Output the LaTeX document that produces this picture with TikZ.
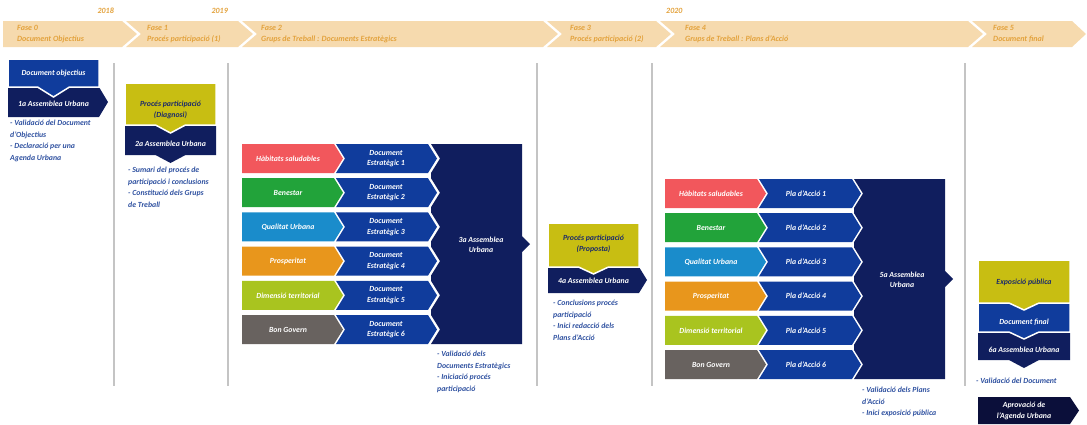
\documentclass[tikz,border=0pt]{standalone}
\usepackage{fontspec}
\setmainfont{Carlito}
\definecolor{bandfill}{HTML}{F6DAAE}
\definecolor{bandtext}{HTML}{E3A23C}
\definecolor{cBlue}{HTML}{103C9C}
\definecolor{cNavy}{HTML}{101E5E}
\definecolor{cDark}{HTML}{0B0F3A}
\definecolor{cYellow}{HTML}{C8BE12}
\definecolor{ynavy}{HTML}{1B2A6B}
\definecolor{cRed}{HTML}{F2575C}
\definecolor{cGreen}{HTML}{22A33A}
\definecolor{cTeal}{HTML}{1A8CCB}
\definecolor{cOrange}{HTML}{E8961C}
\definecolor{cLime}{HTML}{A9C41F}
\definecolor{cGray}{HTML}{68625F}
\definecolor{listblue}{HTML}{2F51A0}
\definecolor{sepgray}{HTML}{C4C4C4}
\newcommand{\HChev}[7]{%
  \fill[#7] (#1,#2) -- (#3,#2) -- ({#3+#6},{(#2+#4)/2}) -- (#3,#4) -- (#1,#4) -- ({#1+#5},{(#2+#4)/2}) -- cycle;}
\newcommand{\VChev}[7]{%
  \filldraw[#7] (#1,#2) -- (#3,#2) -- (#3,#4) -- ({(#1+#3)/2+#5},#4) -- ({(#1+#3)/2},{#4+#6}) -- ({(#1+#3)/2-#5},#4) -- (#1,#4) -- cycle;}
\begin{document}
\begin{tikzpicture}[x=1pt,y=-1pt,
  bandtxt/.style={text=bandtext, font=\bfseries\itshape\fontsize{8}{11.5}\selectfont, align=left, anchor=west, inner sep=0},
  yeartxt/.style={text=bandtext, font=\bfseries\itshape\fontsize{8}{9}\selectfont, inner sep=0},
  boxtxt/.style={text=white, font=\bfseries\itshape\fontsize{7.8}{10.5}\selectfont, align=center, inner sep=0},
  ytxt/.style={boxtxt, text=ynavy},
  listtxt/.style={text=listblue, font=\bfseries\itshape\fontsize{7.8}{11.5}\selectfont, align=left, anchor=north west, inner sep=0},
  sepline/.style={draw=sepgray, line width=1.2pt},
  gapline/.style={draw=white, line width=1.5pt}]
\useasboundingbox (0,0) rectangle (1087,424);

% ---------- phase band ----------
\HChev{3}{21}{122}{47}{0}{15}{bandfill}
\HChev{126}{21}{238}{47}{15}{15}{bandfill}
\HChev{242}{21}{543}{47}{15}{15}{bandfill}
\HChev{547}{21}{656}{47}{15}{15}{bandfill}
\HChev{660}{21}{968}{47}{15}{15}{bandfill}
\HChev{972}{21}{1072}{47}{15}{14}{bandfill}
\node[bandtxt] (f0) at (17,34) {Fase 0\\Document Objectius};
\node[bandtxt] (f1) at (147,34) {Fase 1\\Procés participació (1)};
\node[bandtxt] (f2) at (261,34) {Fase 2\\Grups de Treball : Documents Estratègics};
\node[bandtxt] (f3) at (570,34) {Fase 3\\Procés participació (2)};
\node[bandtxt] (f4) at (685,34) {Fase 4\\Grups de Treball : Plans d'Acció};
\node[bandtxt] (f5) at (993,34) {Fase 5\\Document final};
\node[yeartxt, anchor=east] (y18) at (114,11) {2018};
\node[yeartxt, anchor=east] (y19) at (228,11) {2019};
\node[yeartxt, anchor=west] (y20) at (666,11) {2020};

% ---------- separators ----------
\foreach \sx in {114,228,537,652,965}{\draw[sepline] (\sx,63) -- (\sx,386);}

% ---------- phase 0 ----------
\HChev{8}{87}{99}{117}{0}{9}{cNavy}
\VChev{8}{59}{99}{87}{16}{10}{fill=cBlue, gapline}
\node[boxtxt] (doc0) at (53.5,73) {Document objectius};
\node[boxtxt] (as1) at (53.5,104) {1a Assemblea Urbana};
\node[listtxt] (l0) at (10,120) {- Validació del Document\\d'Objectius\\- Declaració per una\\Agenda Urbana};

% ---------- phase 1 ----------
\VChev{125}{125}{216}{155}{15}{8}{fill=cNavy, draw=none}
\VChev{125}{83}{216}{125}{15}{8}{fill=cYellow, gapline}
\node[ytxt] (pp1) at (170.5,110) {Procés participació\\(Diagnosi)};
\node[boxtxt] (as2) at (170.5,144) {2a Assemblea Urbana};
\node[listtxt] (l1) at (128,167) {- Sumari del procés de\\participació i conclusions\\- Constitució dels Grups\\de Treball};

% ---------- phase 2 ----------
\fill[cNavy] (431,144) -- (522,144) -- (522,236) -- (530,244) -- (522,252) -- (522,344) -- (431,344)
  \foreach \j in {5,4,...,0}{ -- (431,{144+34.2*\j+29}) -- (440,{144+34.2*\j+14.5}) -- (431,{144+34.2*\j}) } -- cycle;
\foreach \i/\col/\lab in {1/cRed/Hàbitats saludables, 2/cGreen/Benestar, 3/cTeal/Qualitat Urbana, 4/cOrange/Prosperitat, 5/cLime/Dimensió territorial, 6/cGray/Bon Govern}{
  \pgfmathsetmacro{\rowT}{144+34.2*(\i-1)}
  \pgfmathsetmacro{\rowB}{\rowT+29}
  \pgfmathsetmacro{\rowM}{\rowT+14.5}
  \HChev{242}{\rowT}{334}{\rowB}{0}{9}{\col}
  \node[boxtxt] (ta\i) at (288,\rowM) {\lab};
  \HChev{336}{\rowT}{428}{\rowB}{9}{9}{cBlue}
  \node[boxtxt] (da\i) at (386,\rowM) {Document\\Estratègic \i};
}
\node[boxtxt] (as3) at (481,245) {3a Assemblea\\Urbana};
\node[listtxt] (l2) at (437,351) {- Validació dels\\Documents Estratègics\\- Iniciació procés\\participació};

% ---------- phase 3 ----------
\HChev{548}{267}{639}{293}{0}{8}{cNavy}
\VChev{548}{223}{639}{267}{15}{7}{fill=cYellow, gapline}
\node[ytxt] (pp3) at (593.5,244) {Procés participació\\(Proposta)};
\node[boxtxt] (as4) at (593.5,281) {4a Assemblea Urbana};
\node[listtxt] (l3) at (553,300) {- Conclusions procés\\participació\\- Inici redacció dels\\Plans d'Acció};

% ---------- phase 4 ----------
\fill[cNavy] (854,179) -- (945,179) -- (945,271) -- (953,279) -- (945,287) -- (945,379) -- (854,379)
  \foreach \j in {5,4,...,0}{ -- (854,{179+34.2*\j+29}) -- (863,{179+34.2*\j+14.5}) -- (854,{179+34.2*\j}) } -- cycle;
\foreach \i/\col/\lab in {1/cRed/Hàbitats saludables, 2/cGreen/Benestar, 3/cTeal/Qualitat Urbana, 4/cOrange/Prosperitat, 5/cLime/Dimensió territorial, 6/cGray/Bon Govern}{
  \pgfmathsetmacro{\rowT}{179+34.2*(\i-1)}
  \pgfmathsetmacro{\rowB}{\rowT+29}
  \pgfmathsetmacro{\rowM}{\rowT+14.5}
  \HChev{665}{\rowT}{757}{\rowB}{0}{9}{\col}
  \node[boxtxt] (tb\i) at (711,\rowM) {\lab};
  \HChev{759}{\rowT}{852}{\rowB}{9}{9}{cBlue}
  \node[boxtxt] (pb\i) at (806,\rowM) {Pla d'Acció \i};
}
\node[boxtxt] (as5) at (902,280) {5a Assemblea\\Urbana};
\node[listtxt] (l4) at (862,387) {- Validació dels Plans\\d'Acció\\- Inici exposició pública};

% ---------- phase 5 ----------
\VChev{978}{332}{1070}{360}{15}{8}{fill=cNavy, draw=none}
\VChev{978}{303}{1070}{332}{15}{7}{fill=cBlue, gapline}
\VChev{978}{260}{1070}{303}{15}{7}{fill=cYellow, gapline}
\node[ytxt] (ex5) at (1024,282) {Exposició pública};
\node[boxtxt] (df5) at (1024,322) {Document final};
\node[boxtxt] (as6) at (1024,350) {6a Assemblea Urbana};
\node[listtxt] (l5) at (976,378) {- Validació del Document};
\HChev{978}{397}{1070}{424}{0}{9}{cDark}
\node[boxtxt] (ap) at (1024,411) {Aprovació de\\l'Agenda Urbana};
\end{tikzpicture}
\end{document}
